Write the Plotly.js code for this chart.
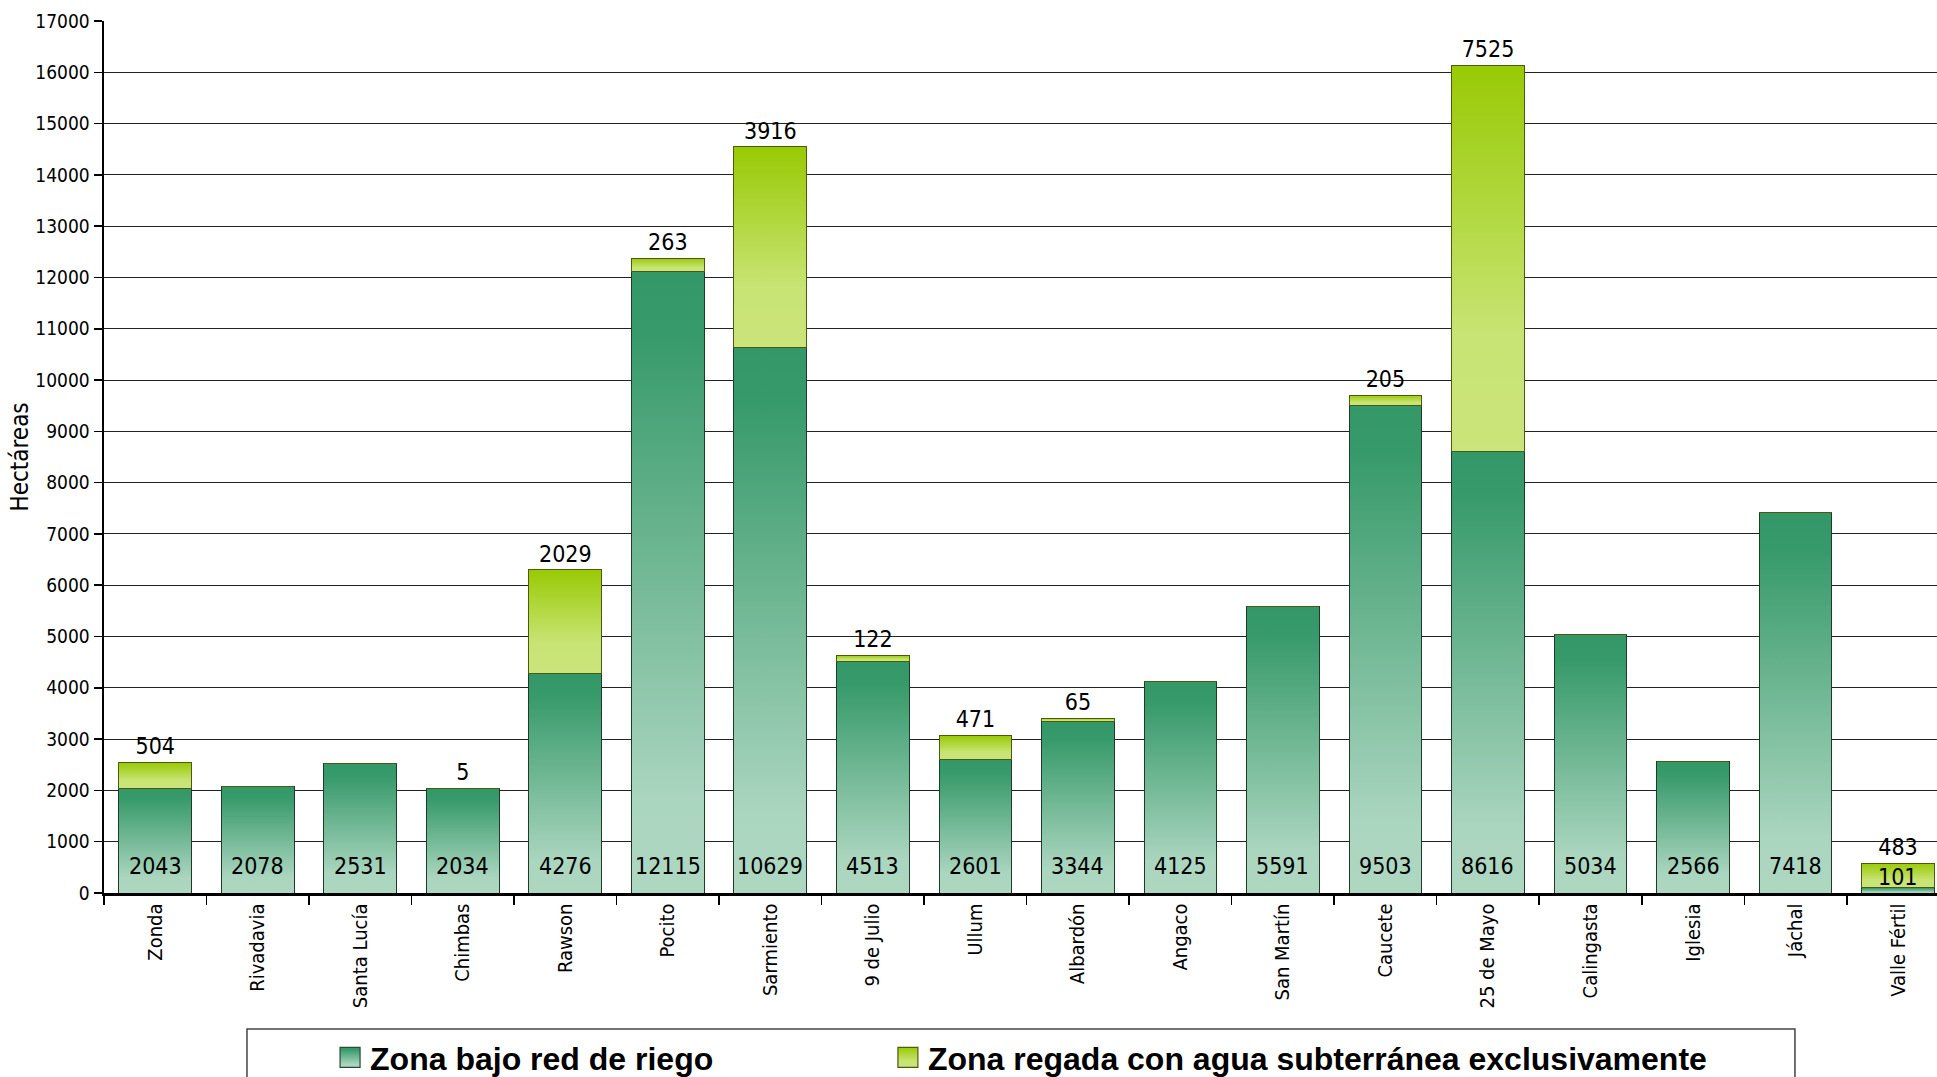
<!DOCTYPE html>
<html>
<head>
<meta charset="utf-8">
<script src="https://cdn.plot.ly/plotly-3.0.1.min.js"></script>
<style>
  html, body { margin: 0; padding: 0; background: #fff; }
  #chart { width: 1937px; height: 1077px; }
</style>
</head>
<body>
<div id="chart"></div>
<script>
const categories = ["Zonda", "Rivadavia", "Santa Lucía", "Chimbas", "Rawson", "Pocito", "Sarmiento", "9 de Julio", "Ullum", "Albardón", "Angaco", "San Martín", "Caucete", "25 de Mayo", "Calingasta", "Iglesia", "Jáchal", "Valle Fértil"];
const redRiego = [2043, 2078, 2531, 2034, 4276, 12115, 10629, 4513, 2601, 3344, 4125, 5591, 9503, 8616, 5034, 2566, 7418, 101];
const aguaSubterranea = [504, 0, 0, 5, 2029, 263, 3916, 122, 471, 65, 0, 0, 205, 7525, 0, 0, 0, 483];
const seriesNames = ["Zona bajo red de riego", "Zona regada con agua subterránea exclusivamente"];
const yTitle = "Hectáreas";

const NARROW = '"Liberation Sans Narrow", "Arial Narrow", "DejaVu Sans Condensed", sans-serif';
const LEGENDFONT = { family: '"Liberation Sans", Arial, sans-serif', size: 32, color: '#000', weight: 'bold' };

const traces = [
  {
    type: 'bar', name: seriesNames[0], x: categories, y: redRiego, legend: 'legend',
    marker: { color: '#5aa97f', line: { color: '#1e3a28', width: 1 } },
    hoverinfo: 'x+y'
  },
  {
    type: 'bar', name: seriesNames[1], x: categories, y: aguaSubterranea, legend: 'legend2',
    text: aguaSubterranea.map(v => v > 0 ? String(v) : ''),
    textposition: 'outside', constraintext: 'none', cliponaxis: false,
    textfont: { family: NARROW, size: 23, color: '#000' },
    marker: { color: '#b5da4a', line: { color: '#4a5a10', width: 1 } },
    hoverinfo: 'x+y'
  }
];

const annotations = categories.map((c, i) => ({
  x: c, y: 0, xref: 'x', yref: 'y', yanchor: 'bottom',
  yshift: redRiego[i] < 500 ? 1 : 12,
  text: String(redRiego[i]), showarrow: false,
  font: { family: NARROW, size: 23, color: '#000' }
}));

const layout = {
  width: 1937, height: 1077,
  margin: { l: 104, r: 0, t: 21, b: 184 },
  paper_bgcolor: '#fff', plot_bgcolor: '#fff',
  barmode: 'stack', bargap: 0.29,
  showlegend: true,
  legend: {
    orientation: 'h', xref: 'container', yref: 'container',
    x: 0.1704, xanchor: 'left', y: 0.018, yanchor: 'middle',
    font: LEGENDFONT, bgcolor: 'rgba(0,0,0,0)', borderwidth: 0
  },
  legend2: {
    orientation: 'h', xref: 'container', yref: 'container',
    x: 0.4584, xanchor: 'left', y: 0.018, yanchor: 'middle',
    font: LEGENDFONT, bgcolor: 'rgba(0,0,0,0)', borderwidth: 0
  },
  xaxis: {
    type: 'category', range: [-0.5, 17.38],
    tickangle: -90, tickfont: { family: NARROW, size: 20, color: '#000' },
    ticks: 'outside', tickson: 'boundaries', ticklen: 9, tickcolor: '#000', tickwidth: 1.5,
    showline: true, linecolor: '#000', linewidth: 2.5, showgrid: false, fixedrange: true
  },
  yaxis: {
    range: [0, 17000], dtick: 1000, tick0: 0, tickformat: 'd',
    tickfont: { family: NARROW, size: 19, color: '#000' },
    ticks: 'outside', ticklen: 8, tickcolor: '#000', tickwidth: 1.5,
    showline: true, linecolor: '#000', linewidth: 2.5,
    showgrid: true, gridcolor: '#222', gridwidth: 1, zeroline: false,
    title: { text: yTitle, font: { family: NARROW, size: 24, color: '#000' }, standoff: 0 },
    fixedrange: true
  },
  annotations: annotations,
  shapes: [{
    type: 'rect', xref: 'paper', yref: 'paper',
    x0: 0.078, x1: 0.9225, y0: -0.156, y1: -0.35,
    line: { color: '#444', width: 1.5 }, fillcolor: 'rgba(0,0,0,0)', layer: 'below'
  }]
};

function addGradients(gd) {
  const svg = gd.querySelector('svg.main-svg');
  if (!svg) return;
  const ns = 'http://www.w3.org/2000/svg';
  let defs = svg.querySelector('defs');
  if (!defs) { defs = document.createElementNS(ns, 'defs'); svg.insertBefore(defs, svg.firstChild); }
  function grad(id, stops) {
    const g = document.createElementNS(ns, 'linearGradient');
    g.setAttribute('id', id);
    g.setAttribute('x1', '0'); g.setAttribute('y1', '0');
    g.setAttribute('x2', '0'); g.setAttribute('y2', '1');
    stops.forEach(([o, c]) => {
      const s = document.createElementNS(ns, 'stop');
      s.setAttribute('offset', o); s.setAttribute('stop-color', c);
      g.appendChild(s);
    });
    defs.appendChild(g);
  }
  grad('gradGreen', [[0, '#349767'], [0.1, '#379a6a'], [0.85, '#aad5bf'], [1, '#aed7c1']]);
  grad('gradYellow', [[0, '#98ca04'], [0.7, '#c8e474'], [1, '#cbe47b']]);
  const ids = ['gradGreen', 'gradYellow'];
  gd.querySelectorAll('.barlayer .trace.bars').forEach((tr, i) => {
    tr.querySelectorAll('path').forEach(p => { p.style.fill = 'url(#' + ids[i] + ')'; });
  });
  const legendSel = ['.legend', '.legend2'];
  legendSel.forEach((sel, i) => {
    gd.querySelectorAll(sel + ' .legendpoints path').forEach(p => {
      p.setAttribute('d', 'M10,10H-10V-10H10Z');
      p.style.fill = 'url(#' + ids[i] + ')';
      p.style.stroke = i === 0 ? '#2a4a36' : '#4a5a10';
      p.style.strokeWidth = '1.2px';
    });
  });
}

Plotly.newPlot('chart', traces, layout, { staticPlot: true, displayModeBar: false }).then(addGradients);
</script>
</body>
</html>
